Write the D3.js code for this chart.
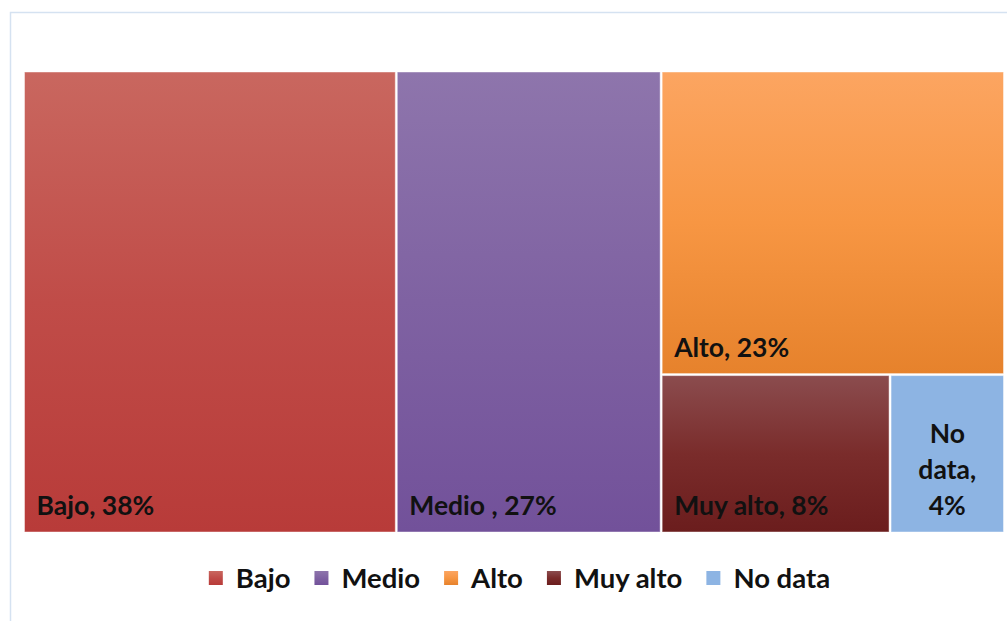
<!DOCTYPE html>
<html>
<head>
<meta charset="utf-8">
<script src="https://cdn.jsdelivr.net/npm/d3@7"></script>
<style>
  body { margin: 0; background: #fff; overflow: hidden; }
  text { font-family: Lato, "Open Sans", sans-serif; font-weight: bold; fill: #111; }
</style>
</head>
<body>
<div id="chart"></div>
<script>
var categories = ["Bajo", "Medio", "Alto", "Muy alto", "No data"];
var labels = ["Bajo, 38%", "Medio , 27%", "Alto, 23%", "Muy alto, 8%", "No data, 4%"];
var shares = [38, 27, 23, 8, 4];
// top / middle / bottom gradient stops for each tile
var colorsTop = ["#c9675f", "#8e75ac", "#fca561", "#8b4c4e", "#8db4e3"];
var colorsMid = ["#c04c48", "#7f62a2", "#f79643", "#7a2c2b", "#8db4e3"];
var colorsBot = ["#b83b39", "#72519a", "#e6822c", "#6b1d1d", "#8db4e3"];

var width = 1007, height = 621;
var margin = {left: 24.5, top: 72, right: 3.5, bottom: 89};
var w = width - margin.left - margin.right;
var h = height - margin.top - margin.bottom;

var svg = d3.select("#chart").append("svg")
  .attr("width", width)
  .attr("height", height);

// chart area frame (runs off the right and bottom edges)
svg.append("rect")
  .attr("x", 10.5).attr("y", 12.5)
  .attr("width", 1100).attr("height", 700)
  .attr("fill", "none")
  .attr("stroke", "#d5e2f1")
  .attr("stroke-width", 1.5);

var defs = svg.append("defs");
categories.forEach(function(c, i) {
  var g = defs.append("linearGradient")
    .attr("id", "grad" + i)
    .attr("x1", 0).attr("y1", 0).attr("x2", 0).attr("y2", 1);
  g.append("stop").attr("offset", "0%").attr("stop-color", colorsTop[i]);
  g.append("stop").attr("offset", "50%").attr("stop-color", colorsMid[i]);
  g.append("stop").attr("offset", "100%").attr("stop-color", colorsBot[i]);
});

var data = {children: categories.map(function(c, i) {
  return {name: c, label: labels[i], value: shares[i], idx: i};
})};

var root = d3.hierarchy(data)
  .sum(function(d) { return d.value; })
  .sort(function(a, b) { return b.value - a.value; });

d3.treemap()
  .tile(d3.treemapSquarify.ratio(1))
  .size([w, h])
  .paddingInner(2)(root);

var g = svg.append("g")
  .attr("transform", "translate(" + margin.left + "," + margin.top + ")");

var cell = g.selectAll("g.cell")
  .data(root.leaves())
  .enter().append("g")
  .attr("class", "cell")
  .attr("transform", function(d) { return "translate(" + d.x0 + "," + d.y0 + ")"; });

cell.append("rect")
  .attr("width", function(d) { return d.x1 - d.x0; })
  .attr("height", function(d) { return d.y1 - d.y0; })
  .attr("fill", function(d) { return "url(#grad" + d.data.idx + ")"; })
  .attr("stroke", "#fff")
  .attr("stroke-opacity", 0.45)
  .attr("stroke-width", 1);

var fontSize = 26.5;
var lineGap = 36;

cell.each(function(d) {
  var el = d3.select(this);
  var cw = d.x1 - d.x0, ch = d.y1 - d.y0;
  var t = el.append("text")
    .style("font-size", fontSize + "px")
    .attr("x", 12)
    .attr("y", ch - 17)
    .text(d.data.label);
  if (t.node().getComputedTextLength() > cw - 24) {
    // wrap word by word, centred in the tile
    var words = d.data.label.split(" ");
    var lines = [], cur = "";
    t.remove();
    words.forEach(function(word) {
      var test = cur ? cur + " " + word : word;
      var probe = el.append("text").style("font-size", fontSize + "px").text(test);
      var len = probe.node().getComputedTextLength();
      probe.remove();
      if (len > cw - 40 && cur) { lines.push(cur); cur = word; }
      else cur = test;
    });
    lines.push(cur);
    el.selectAll("text.wrap")
      .data(lines)
      .enter().append("text")
      .attr("class", "wrap")
      .style("font-size", fontSize + "px")
      .attr("text-anchor", "middle")
      .attr("x", cw / 2)
      .attr("y", function(l, j) { return ch - 17 - (lines.length - 1 - j) * lineGap; })
      .text(function(l) { return l; });
  }
});

// legend
var legend = svg.append("g").attr("class", "legend");
var sq = 14, gapText = 13, gapItem = 24;
var x = 0;
categories.forEach(function(c, i) {
  var item = legend.append("g").attr("transform", "translate(" + x + ",0)");
  item.append("rect")
    .attr("x", 0).attr("y", -sq / 2)
    .attr("width", sq).attr("height", sq)
    .attr("fill", "url(#grad" + i + ")");
  var t = item.append("text")
    .attr("x", sq + gapText)
    .attr("y", 0)
    .attr("dy", "0.35em")
    .style("font-size", "27.5px")
    .text(c);
  x += sq + gapText + t.node().getComputedTextLength() + gapItem;
});
x -= gapItem;
legend.attr("transform", "translate(" + (519.5 - x / 2) + ",578)");
</script>
</body>
</html>
